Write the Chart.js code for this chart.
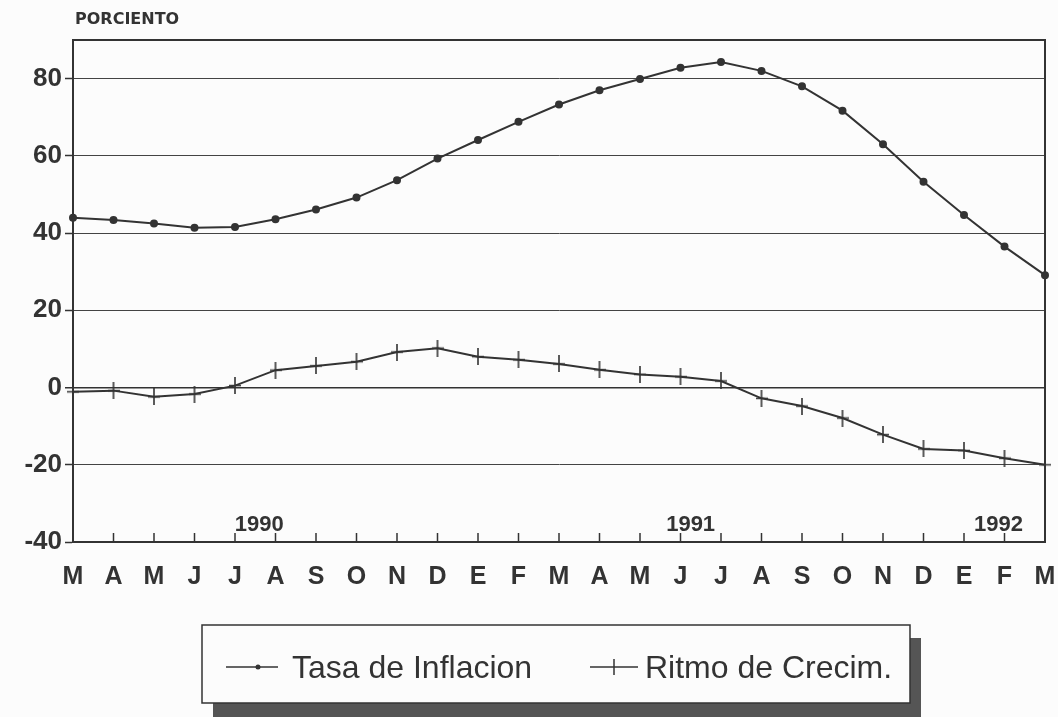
<!DOCTYPE html>
<html>
<head>
<meta charset="utf-8">
<script src="https://cdn.jsdelivr.net/npm/chart.js@4/dist/chart.umd.min.js"></script>
<style>
  html, body { margin: 0; padding: 0; background: #fcfcfc; }
  canvas { display: block; }
</style>
</head>
<body>
<canvas id="myChart" width="1058" height="717"></canvas>
<script>
// months from March 1990 to March 1992
var months = ["M", "A", "M", "J", "J", "A", "S", "O", "N", "D", "E", "F",
              "M", "A", "M", "J", "J", "A", "S", "O", "N", "D", "E", "F", "M"];
var inflacion = [44.0, 43.4, 42.5, 41.4, 41.6, 43.6, 46.1, 49.2, 53.7, 59.3, 64.1, 68.8,
                 73.3, 77.0, 79.9, 82.8, 84.3, 82.0, 78.0, 71.7, 63.0, 53.3, 44.7, 36.5, 29.1];
var crecimiento = [-1.1, -0.8, -2.4, -1.7, 0.5, 4.5, 5.6, 6.7, 9.2, 10.2, 8.0, 7.2,
                   6.1, 4.6, 3.4, 2.8, 1.7, -2.8, -4.8, -7.9, -12.2, -15.9, -16.3, -18.3, -20.0];
var years = ["1990", "1991", "1992"];
var yTicks = [-40, -20, 0, 20, 40, 60, 80];

// where the year captions sit along the month axis (fractional month index)
var yearAt = [4.6, 15.25, 22.85];

var ink = "#333333";
var font = "'Liberation Sans', Arial, sans-serif";

// tall plus sign used as the growth-series marker
function plusMarker(w, h) {
    var cv = document.createElement("canvas");
    cv.width = w;
    cv.height = h;
    var g = cv.getContext("2d");
    g.strokeStyle = ink;
    g.lineWidth = 1.6;
    g.beginPath();
    g.moveTo(w / 2, 0);
    g.lineTo(w / 2, h);
    g.moveTo(0, h / 2);
    g.lineTo(w, h / 2);
    g.stroke();
    return cv;
}
var plus = plusMarker(12, 17);

var chrome = {
    id: "chrome",
    afterDraw: function (chart) {
        var c = chart.ctx;
        var a = chart.chartArea;
        var x = chart.scales.x;
        c.save();

        // frame: top and right
        c.strokeStyle = ink;
        c.lineWidth = 2;
        c.beginPath();
        c.moveTo(a.left, a.top);
        c.lineTo(a.right, a.top);
        c.lineTo(a.right, a.bottom);
        c.stroke();

        // month ticks pointing up from the bottom axis
        c.lineWidth = 1.5;
        c.beginPath();
        for (var i = 1; i < months.length - 1; i++) {
            var px = x.getPixelForValue(i);
            c.moveTo(px, a.bottom);
            c.lineTo(px, a.bottom - 9);
        }
        c.stroke();

        // year captions
        c.fillStyle = ink;
        c.font = "bold 22px " + font;
        c.textAlign = "center";
        c.textBaseline = "alphabetic";
        years.forEach(function (y, k) {
            var px = a.left + (a.right - a.left) * yearAt[k] / (months.length - 1);
            c.fillText(y, px, a.bottom - 11);
        });

        // unit caption
        c.font = "bold 16px 'DejaVu Sans', sans-serif";
        c.textAlign = "left";
        c.fillText("PORCIENTO", 75, 24);

        // legend box with drop shadow
        var bx = 202, by = 625, bw = 708, bh = 78;
        c.fillStyle = "#555555";
        c.fillRect(bx + 11, by + 13, bw, bh + 10);
        c.fillStyle = "#fcfcfc";
        c.fillRect(bx, by, bw, bh);
        c.strokeStyle = ink;
        c.lineWidth = 1.5;
        c.strokeRect(bx, by, bw, bh);

        var ly = 667;
        c.lineWidth = 1.5;
        c.beginPath();
        c.moveTo(226, ly);
        c.lineTo(278, ly);
        c.moveTo(590, ly);
        c.lineTo(638, ly);
        c.moveTo(614, ly - 8);
        c.lineTo(614, ly + 8);
        c.stroke();
        c.beginPath();
        c.arc(258, ly, 2.5, 0, Math.PI * 2);
        c.fillStyle = ink;
        c.fill();

        c.font = "32px " + font;
        c.textBaseline = "middle";
        c.fillText("Tasa de Inflacion", 292, ly + 2);
        c.fillText("Ritmo de Crecim.", 645, ly + 2);

        c.restore();
    }
};

var ctx = document.getElementById("myChart").getContext("2d");
var myChart = new Chart(ctx, {
    type: "line",
    data: {
        labels: months,
        datasets: [
            {
                label: "Tasa de Inflacion",
                data: inflacion,
                borderColor: ink,
                backgroundColor: ink,
                borderWidth: 2,
                pointStyle: "circle",
                pointRadius: 3,
                tension: 0,
            },
            {
                label: "Ritmo de Crecim.",
                data: crecimiento,
                borderColor: ink,
                backgroundColor: ink,
                borderWidth: 2,
                pointStyle: plus,
                tension: 0,
            },
        ],
    },
    options: {
        responsive: false,
        animation: false,
        layout: {
            padding: { top: 40, right: 13, left: 0, bottom: 0 },
        },
        plugins: {
            legend: { display: false },
            tooltip: { enabled: false },
        },
        scales: {
            x: {
                type: "category",
                offset: false,
                grid: { display: false, drawTicks: false },
                border: { display: true, color: ink, width: 2 },
                ticks: {
                    autoSkip: false,
                    maxRotation: 0,
                    padding: 20,
                    color: ink,
                    font: { family: font, size: 25, weight: "bold" },
                },
                afterFit: function (scale) {
                    scale.height = 175;
                    scale.paddingLeft = 0;
                    scale.paddingRight = 0;
                },
            },
            y: {
                min: -40,
                max: 90,
                afterBuildTicks: function (scale) {
                    scale.ticks = yTicks.map(function (v) { return { value: v }; });
                },
                grid: {
                    color: function (c) { return c.tick && c.tick.value === 0 ? "#333" : "#444"; },
                    lineWidth: function (c) { return c.tick && c.tick.value === 0 ? 1.5 : 1; },
                    borderDash: function (c) { return c.tick && c.tick.value === 0 ? [6, 2] : [2, 2]; },
                    drawTicks: true,
                    tickLength: 8,
                    tickColor: ink,
                    tickWidth: 1.5,
                },
                border: { display: true, color: ink, width: 2 },
                ticks: {
                    padding: 3,
                    color: ink,
                    font: { family: font, size: 26, weight: "bold" },
                },
                afterFit: function (scale) {
                    scale.width = 73;
                },
            },
        },
    },
    plugins: [chrome],
});
</script>
</body>
</html>
